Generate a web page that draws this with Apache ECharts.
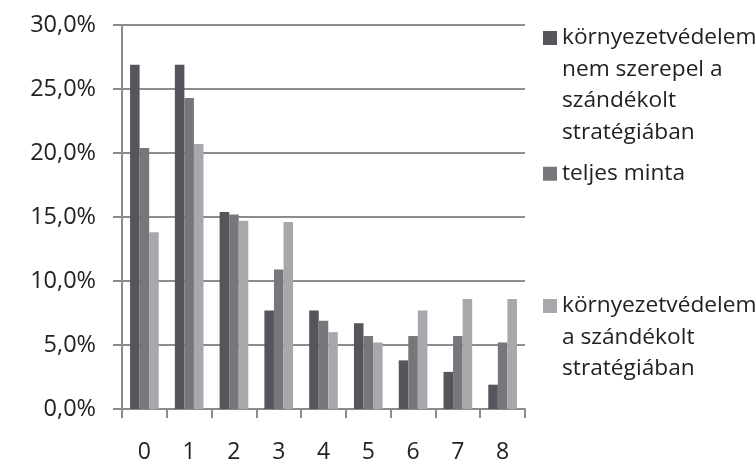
<!DOCTYPE html>
<html>
<head>
<meta charset="utf-8">
<script src="https://cdn.jsdelivr.net/npm/echarts@6/dist/echarts.min.js"></script>
<style>html,body{margin:0;padding:0;background:#fff}#c{width:755px;height:460px}</style>
</head>
<body>
<div id="c"></div>
<script>
var categories = ['0','1','2','3','4','5','6','7','8'];
var seriesNames = [
  'környezetvédelem\nnem szerepel a\nszándékolt\nstratégiában',
  'teljes minta',
  'környezetvédelem\na szándékolt\nstratégiában'
];
var notInStrategy = [26.9, 26.9, 15.4, 7.7, 7.7, 6.7, 3.8, 2.9, 1.9];
var fullSample    = [20.4, 24.3, 15.2, 10.9, 6.9, 5.7, 5.7, 5.7, 5.2];
var inStrategy    = [13.8, 20.7, 14.7, 14.6, 6.0, 5.2, 7.7, 8.6, 8.6];
var colors = ['#56555b', '#77767b', '#a8a7ac'];

var FONT = 'Open Sans';
var LH = 31.5;
var gridColor = '#8c8c8c';

function legendFor(i, top) {
  var lines = seriesNames[i].split('\n').length;
  var h = lines * LH;
  var icon = lines > 1
    ? 'path://M0 0M0 ' + h + 'M0 9H14V23H0Z'
    : 'rect';
  return {
    data: [{name: seriesNames[i], icon: icon}],
    orient: 'vertical',
    left: 538,
    top: top,
    itemWidth: 14,
    itemHeight: lines > 1 ? h : 14,
    itemGap: 0,
    selectedMode: false,
    textStyle: {fontFamily: FONT, fontSize: 22.7, color: '#222', lineHeight: LH}
  };
}

var chart = echarts.init(document.getElementById('c'), null, {renderer: 'canvas'});
chart.setOption({
  animation: false,
  color: colors,
  textStyle: {fontFamily: FONT},
  legend: [legendFor(0, 17), legendFor(1, 153), legendFor(2, 285)],
  grid: {left: 122, right: 230, top: 25, bottom: 51, containLabel: false, outerBoundsMode: 'none'},
  xAxis: {
    type: 'category',
    data: categories,
    boundaryGap: true,
    axisLine: {show: true, lineStyle: {color: gridColor, width: 2}},
    axisTick: {show: true, length: 9, alignWithLabel: false, lineStyle: {color: gridColor, width: 2}},
    axisLabel: {color: '#222', fontSize: 23, fontFamily: FONT, margin: 32}
  },
  yAxis: {
    type: 'value',
    min: 0, max: 30, interval: 5,
    axisLine: {show: true, lineStyle: {color: gridColor, width: 2}},
    axisTick: {show: true, length: 9, lineStyle: {color: gridColor, width: 2}},
    splitLine: {show: true, lineStyle: {color: gridColor, width: 2}},
    axisLabel: {
      color: '#222', fontSize: 23.5, fontFamily: FONT, margin: 26,
      formatter: function (v) { return v.toFixed(1).replace('.', ',') + '%'; }
    }
  },
  series: [
    {name: seriesNames[0], type: 'bar', data: notInStrategy, barGap: '0%', barCategoryGap: '36%'},
    {name: seriesNames[1], type: 'bar', data: fullSample, barGap: '0%', barCategoryGap: '36%'},
    {name: seriesNames[2], type: 'bar', data: inStrategy, barGap: '0%', barCategoryGap: '36%'}
  ]
});
</script>
</body>
</html>
